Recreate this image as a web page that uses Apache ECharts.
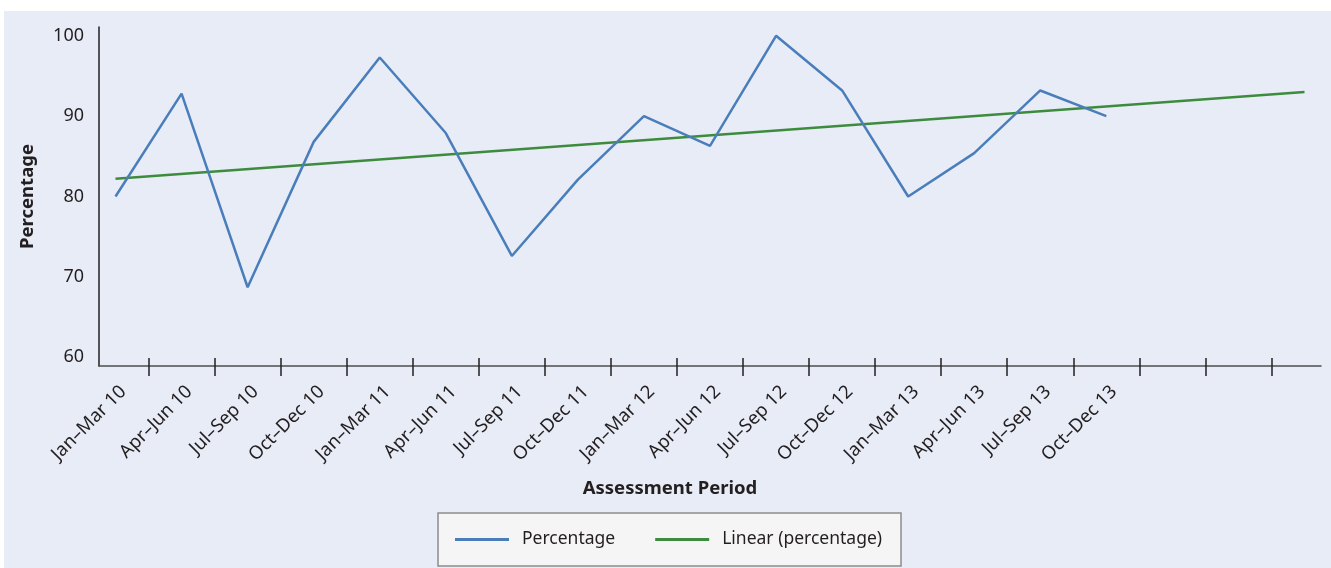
<!DOCTYPE html>
<html>
<head>
<meta charset="utf-8">
<style>
  html, body { margin: 0; padding: 0; background: #ffffff; }
  #chart { width: 1331px; height: 568px; }
</style>
<script src="https://cdn.jsdelivr.net/npm/echarts@6/dist/echarts.min.js"></script>
</head>
<body>
<div id="chart"></div>
<script>
// ---- Data ----
const categories = ['Jan–Mar 10','Apr–Jun 10','Jul–Sep 10','Oct–Dec 10','Jan–Mar 11','Apr–Jun 11','Jul–Sep 11','Oct–Dec 11','Jan–Mar 12','Apr–Jun 12','Jul–Sep 12','Oct–Dec 12','Jan–Mar 13','Apr–Jun 13','Jul–Sep 13','Oct–Dec 13'];
const percentage = [80, 92.8, 68.7, 86.8, 97.3, 87.9, 72.6, 82.1, 90, 86.3, 100, 93.2, 80, 85.4, 93.2, 90];
// linear trend line: start and end positions (slot index) and values
const trendIndex = [0, 18];
const trendValues = [82.2, 93.0];
const yTickLabels = [60, 70, 80, 90, 100];
const slotCount = 18; // tick slots along x axis

const FONT = '"Noto Sans", "Open Sans", sans-serif';
const TXT = '#231f20';

const seriesData = percentage.map((v, i) => [i, v]);
const trendData = trendIndex.map((x, i) => [x, trendValues[i]]);
const tickPositions = [];
for (let i = 0; i < slotCount; i++) tickPositions.push(i + 0.5);
const labelPositions = categories.map((c, i) => i);

const chart = echarts.init(document.getElementById('chart'), null, { renderer: 'canvas' });
chart.setOption({
  animation: false,
  backgroundColor: '#ffffff',
  graphic: [{
    type: 'rect', z: -10, silent: true,
    shape: { x: 4, y: 11, width: 1327, height: 557 },
    style: { fill: '#e8ecf6' }
  }],
  grid: { left: 99, right: 10, top: 27, bottom: 202, containLabel: false },
  xAxis: [{
    type: 'value',
    min: -0.25, max: slotCount + 0.25,
    name: 'Assessment Period',
    nameLocation: 'middle',
    nameGap: 113,
    nameTextStyle: { fontFamily: FONT, fontSize: 18.5, fontWeight: 'bold', color: TXT, padding: [0, 80, 0, 0] },
    splitLine: { show: false },
    axisLine: { show: true, onZero: false, lineStyle: { color: '#4d4d4f', width: 1.5 } },
    axisTick: { show: true, customValues: tickPositions, length: 10, lineStyle: { color: '#231f20', width: 1.5 } },
    axisLabel: {
      customValues: labelPositions,
      rotate: 45, margin: 15,
      verticalAlign: 'top', lineHeight: 22,
      fontFamily: FONT, fontSize: 18.5, color: TXT,
      formatter: (v) => categories[Math.round(v)] || ''
    }
  }, {
    type: 'value',
    position: 'bottom',
    min: -0.25, max: slotCount + 0.25,
    splitLine: { show: false },
    axisLine: { show: false },
    axisLabel: { show: false },
    axisTick: { show: true, inside: true, customValues: tickPositions, length: 8, lineStyle: { color: '#231f20', width: 1.5 } }
  }],
  yAxis: {
    type: 'value',
    min: 58.9, max: 101.1,
    name: 'Percentage',
    nameLocation: 'middle',
    nameGap: 62,
    nameTextStyle: { fontFamily: FONT, fontSize: 18.5, fontWeight: 'bold', color: TXT },
    splitLine: { show: false },
    axisLine: { show: true, onZero: false, lineStyle: { color: '#231f20', width: 1.5 } },
    axisTick: { show: false },
    axisLabel: { customValues: yTickLabels, margin: 15, fontFamily: FONT, fontSize: 18, color: TXT }
  },
  legend: {
    left: 438, top: 513,
    orient: 'horizontal',
    padding: [16, 19, 16, 17],
    itemGap: 40,
    itemWidth: 54, itemHeight: 3,
    icon: 'rect',
    backgroundColor: '#f5f5f5',
    borderColor: '#8c8c8c', borderWidth: 1.5,
    textStyle: { fontFamily: FONT, fontSize: 17.5, color: TXT, padding: [0, 0, 0, 8], lineHeight: 21 },
    data: ['Percentage', 'Linear (percentage)']
  },
  series: [{
    name: 'Percentage',
    type: 'line',
    xAxisIndex: 0,
    data: seriesData,
    symbol: 'none',
    lineStyle: { color: '#4a7ebb', width: 2.5 },
    itemStyle: { color: '#4a7ebb' },
    z: 3
  }, {
    name: 'Linear (percentage)',
    type: 'line',
    xAxisIndex: 0,
    data: trendData,
    symbol: 'none',
    lineStyle: { color: '#3d8b3d', width: 2.5 },
    itemStyle: { color: '#3d8b3d' },
    z: 2
  }]
});
</script>
</body>
</html>
